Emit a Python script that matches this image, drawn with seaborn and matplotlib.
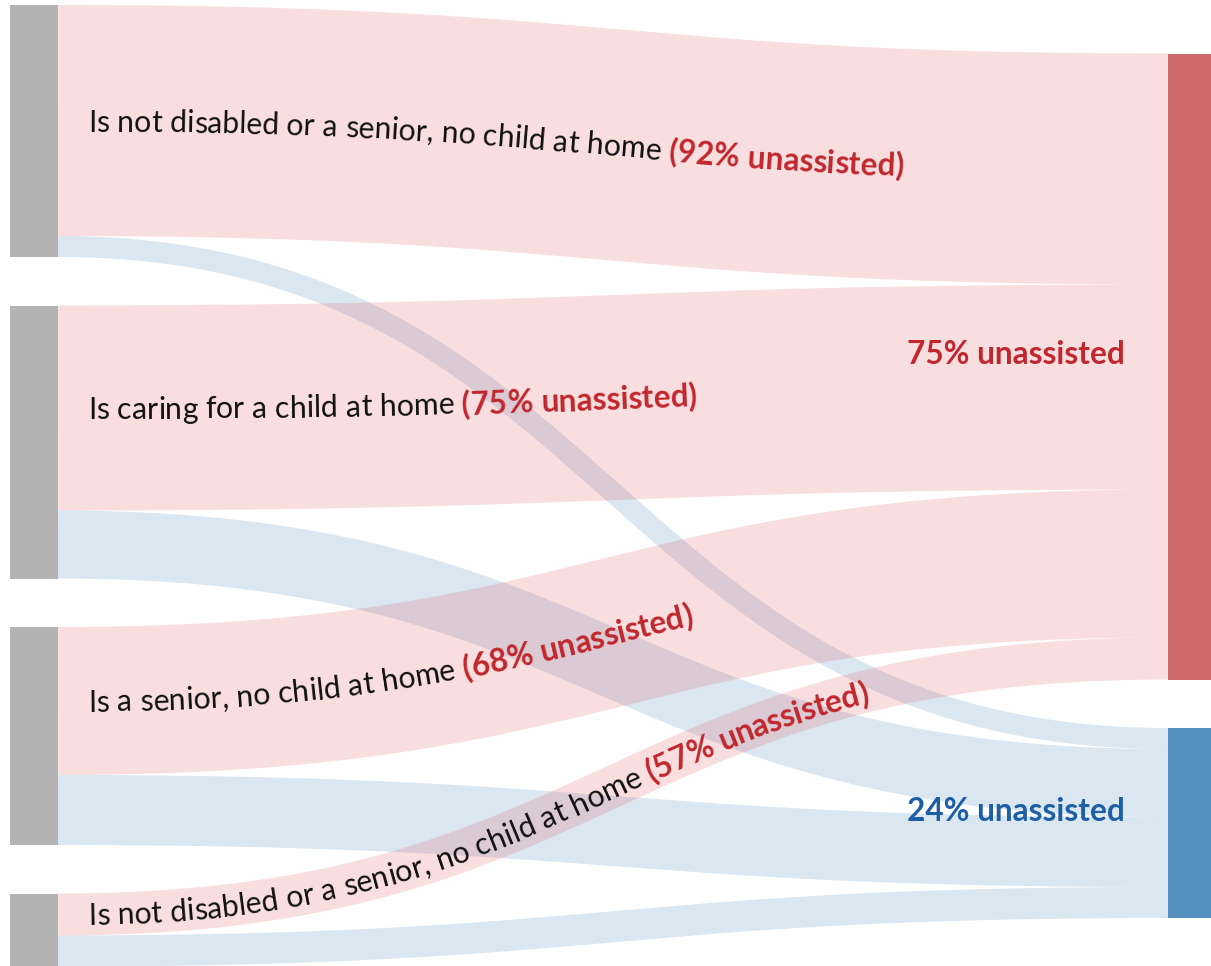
import numpy as np
import matplotlib
matplotlib.use('Agg')
import matplotlib.pyplot as plt
from matplotlib import font_manager
from matplotlib.font_manager import FontProperties
from matplotlib.patches import Rectangle
import seaborn as sns

# Datos: grupos de origen, % sin asistencia y tamaño relativo de cada flujo
groups = ['Is not disabled or a senior, no child at home',
          'Is caring for a child at home',
          'Is a senior, no child at home',
          'Is not disabled or a senior, no child at home']
group_pct = [92, 75, 68, 57]
to_red = [231, 205, 148, 42]
to_blue = [21, 68, 70, 31]
outcome_labels = ['75% unassisted', '24% unassisted']

# Colores
gray_node = '#b3b3b3'
red_node = '#cd686b'
blue_node = '#5590c0'
red_link = '#e05a5f'
blue_link = '#4682b4'
red_text = '#c1272d'
blue_text = '#1d5fa6'
black_text = '#111111'

W, H = 1211, 966
sns.set_theme(style='white')
names = {f.name for f in font_manager.fontManager.ttflist}
FAMILY = 'Liberation Sans Narrow' if 'Liberation Sans Narrow' in names else 'Lato'
plt.rcParams['font.family'] = [FAMILY, 'DejaVu Sans']

fig = plt.figure(figsize=(W / 100, H / 100), dpi=100)
ax = fig.add_axes([0, 0, 1, 1])
ax.set_xlim(0, W)
ax.set_ylim(H, 0)
ax.axis('off')

# Layout
left_x0, node_w = 10, 48
left_x1 = left_x0 + node_w
right_x0 = 1168
gap = 48.5
top = 5
totals = [r + b for r, b in zip(to_red, to_blue)]
left_y = []
y = top
for t in totals:
    left_y.append(y)
    y += t + gap
left_bottom = y - gap
mid = (top + left_bottom) / 2
red_total, blue_total = sum(to_red), sum(to_blue)
red_y0 = mid - (red_total + blue_total + gap) / 2
blue_y0 = red_y0 + red_total + gap


def link_curve(yl, yr, n=800):
    t = np.linspace(0, 1, n)
    xm = (left_x1 + right_x0) / 2
    x = (1 - t) ** 3 * left_x1 + 3 * (1 - t) ** 2 * t * xm + 3 * (1 - t) * t ** 2 * xm + t ** 3 * right_x0
    yy = (1 - t) ** 3 * yl + 3 * (1 - t) ** 2 * t * yl + 3 * (1 - t) * t ** 2 * yr + t ** 3 * yr
    return x, yy


# Flujos (en orden: rojo y azul de cada grupo)
red_curves = []
red_off, blue_off = red_y0, blue_y0
for i in range(len(groups)):
    y0 = left_y[i]
    xr, yr = link_curve(y0 + to_red[i] / 2, red_off + to_red[i] / 2)
    ax.plot(xr, yr, color=red_link, alpha=0.2, lw=to_red[i] * 0.72, solid_capstyle='butt', zorder=1)
    red_curves.append((xr, yr))
    red_off += to_red[i]
    xb, yb = link_curve(y0 + to_red[i] + to_blue[i] / 2, blue_off + to_blue[i] / 2)
    ax.plot(xb, yb, color=blue_link, alpha=0.2, lw=to_blue[i] * 0.72, solid_capstyle='butt', zorder=1)
    blue_off += to_blue[i]

# Nodos
for i in range(len(groups)):
    ax.add_patch(Rectangle((left_x0, left_y[i]), node_w, totals[i], color=gray_node, lw=0, zorder=3))
ax.add_patch(Rectangle((right_x0, red_y0), W - right_x0, red_total, color=red_node, lw=0, zorder=3))
ax.add_patch(Rectangle((right_x0, blue_y0), W - right_x0, blue_total, color=blue_node, lw=0, zorder=3))

# Tamaños de fuente ajustados al ancho del original
renderer = fig.canvas.get_renderer()


def tw(s, fp):
    return renderer.get_text_width_height_descent(s, fp, ismath=False)[0]


ref = 20
bold_size = ref * 218 / tw('75% unassisted', FontProperties(family=FAMILY, weight='bold', size=ref))
reg_size = ref * 575 / tw(groups[0], FontProperties(family=FAMILY, size=ref))
fp_reg = FontProperties(family=FAMILY, size=reg_size)
fp_bold = FontProperties(family=FAMILY, weight='bold', size=bold_size)


def path_text(x, y, parts, start_x):
    s = np.concatenate([[0], np.cumsum(np.hypot(np.diff(x), np.diff(y)))])
    gx, gy = np.gradient(x), np.gradient(y)
    s0 = np.interp(start_x, x, s)
    offset = 0
    for text, fp, color in parts:
        cap = renderer.get_text_width_height_descent('I', fp, ismath=False)[1]
        for i, ch in enumerate(text):
            if ch == ' ':
                continue
            c = tw(text[:i + 1], fp) - tw(ch, fp) / 2
            sc = s0 + offset + c
            px, py = np.interp(sc, s, x), np.interp(sc, s, y)
            tx, ty = np.interp(sc, s, gx), np.interp(sc, s, gy)
            n = np.hypot(tx, ty)
            tx, ty = tx / n, ty / n
            bx, by = px - ty * cap / 2, py + tx * cap / 2
            ang = np.degrees(np.arctan2(-ty, tx))
            ax.text(bx, by, ch, fontproperties=fp, color=color, rotation=ang,
                    rotation_mode='anchor', ha='center', va='baseline', zorder=5)
        offset += tw(text.rstrip(), fp)
        if text.endswith(' '):
            offset += tw('a a', fp) - tw('aa', fp)


for i in range(len(groups)):
    xr, yr = red_curves[i]
    path_text(xr, yr, [(groups[i] + ' ', fp_reg, black_text),
                       (f'({group_pct[i]}% unassisted)', fp_bold, red_text)], left_x1 + 30)

# Etiquetas de los nodos de destino
ax.text(right_x0 - 43, red_y0 + red_total / 2 - 2, outcome_labels[0], fontproperties=fp_bold,
        color=red_text, ha='right', va='baseline', zorder=5)
ax.text(right_x0 - 43, blue_y0 + blue_total / 2 - 2, outcome_labels[1], fontproperties=fp_bold,
        color=blue_text, ha='right', va='baseline', zorder=5)

fig.savefig('out.png', dpi=100, facecolor='white')
